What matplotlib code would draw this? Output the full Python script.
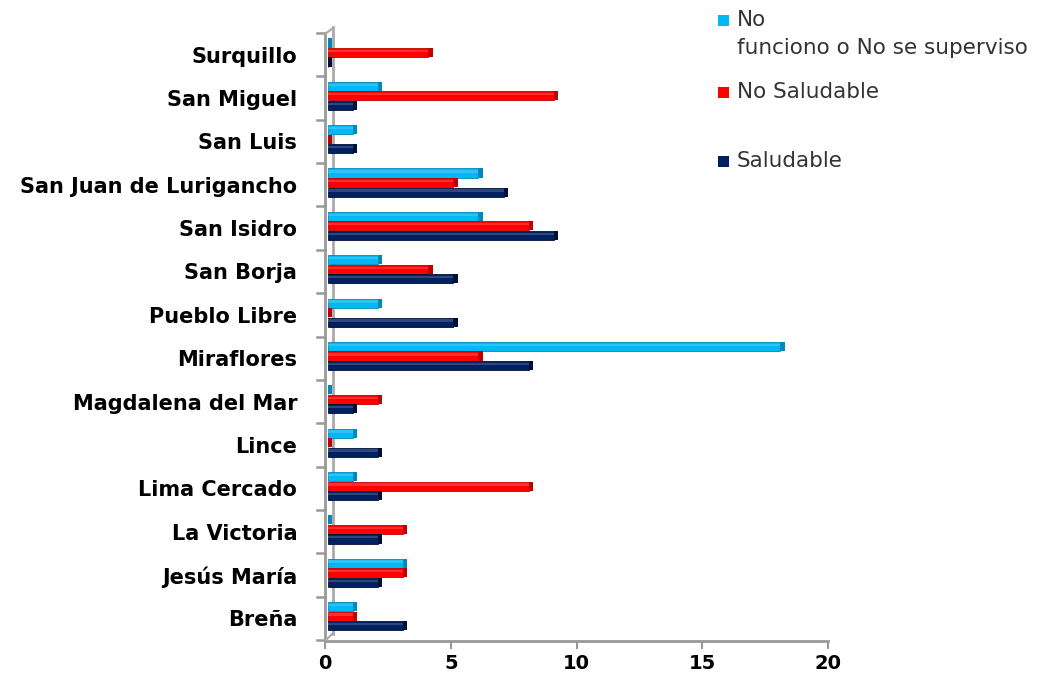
import matplotlib
matplotlib.use("Agg")
import matplotlib.pyplot as plt
import matplotlib.transforms as mtransforms
from matplotlib.patches import Rectangle
import numpy as np

categories = ["Breña", "Jesús María", "La Victoria", "Lima Cercado", "Lince",
              "Magdalena del Mar", "Miraflores", "Pueblo Libre", "San Borja",
              "San Isidro", "San Juan de Lurigancho", "San Luis", "San Miguel",
              "Surquillo"]
no_funciono = [1, 3, 0, 1, 1, 0, 18, 2, 2, 6, 6, 1, 2, 0]
no_saludable = [1, 3, 3, 8, 0, 2, 6, 0, 4, 8, 5, 0, 9, 4]
saludable = [3, 2, 2, 2, 2, 1, 8, 5, 5, 9, 7, 1, 1, 0]
series_labels = ["No\nfunciono o No se superviso", "No Saludable", "Saludable"]
x_ticks = [0, 5, 10, 15, 20]

colors = ["#00B8F4", "#FF0000", "#002060"]
caps = ["#0088BB", "#C00000", "#001038"]

fig = plt.figure(figsize=(10.62, 6.75), dpi=100)
ax = fig.add_axes([325 / 1062, 35 / 675, (828 - 325) / 1062, (641 - 34) / 675])

for s in ["top", "right"]:
    ax.spines[s].set_visible(False)
ax.spines["left"].set_color("#999999")
ax.spines["left"].set_linewidth(2)
ax.spines["bottom"].set_color("#999999")
ax.spines["bottom"].set_linewidth(2)
ax.spines["bottom"].set_position(("outward", 1))

y = np.arange(len(categories))
h = 0.21
offs = [0.27, 0.05, -0.17]
start = 0.1
for vals, off, c, cc in zip([no_funciono, no_saludable, saludable], offs, colors, caps):
    vals = np.array(vals, dtype=float)
    ax.barh(y + off, vals, height=h, left=start, color=c, edgecolor=cc, linewidth=0.6, zorder=3)
    ax.barh(y + off + h * 0.18, vals, height=h * 0.25, left=start, color="white", alpha=0.18,
            linewidth=0, zorder=4)
    ax.barh(y + off, np.full_like(vals, 0.18), height=h, left=vals + start, color=cc,
            linewidth=0, zorder=4)

ax.set_xlim(0, 20)
ax.set_ylim(-0.5, len(categories) - 0.5)
ax.set_xticks(x_ticks)
ax.set_xticklabels([str(t) for t in x_ticks], fontsize=14, fontweight="bold", family="DejaVu Sans")
ax.set_yticks(y)
ax.set_yticklabels(categories, fontsize=15, fontweight="bold", family="DejaVu Sans")
ax.tick_params(axis="y", length=0, pad=20)
ax.tick_params(axis="x", length=6, color="#999999", width=1.5, pad=3)

# category boundary ticks on the left
for b in np.arange(-0.5, len(categories), 1.0):
    ax.plot([-0.3, 0], [b, b], color="#999999", lw=1.8, clip_on=False, zorder=5)

# 3D back wall line
off_tr = mtransforms.offset_copy(ax.transAxes, fig=fig, x=8, y=6, units="dots")
ax.plot([0, 0], [0, 1], color="#AAAAAA", lw=2, transform=off_tr, clip_on=False, zorder=2)
fig.add_artist(plt.Line2D([325 / 1062, 333 / 1062], [(675 - 34) / 675, (675 - 28) / 675],
                          color="#AAAAAA", lw=1.5))
fig.add_artist(plt.Line2D([326 / 1062, 333 / 1062], [(675 - 640) / 675, (675 - 633) / 675],
                          color="#AAAAAA", lw=1.5))

# legend drawn manually
leg_y = [20, 92, 161]
for c, ly, lab in zip(colors, leg_y, series_labels):
    fig.add_artist(Rectangle((718 / 1062, (675 - ly - 6) / 675), 11 / 1062, 11 / 675,
                             facecolor=c, edgecolor="none", transform=fig.transFigure))
    for k, line in enumerate(lab.split("\n")):
        fig.text(737 / 1062, (675 - ly - 28 * k) / 675, line, fontsize=15.5, color="#333333",
                 va="center", ha="left", family="DejaVu Sans")

fig.savefig("out.png", dpi=100, facecolor="white")
